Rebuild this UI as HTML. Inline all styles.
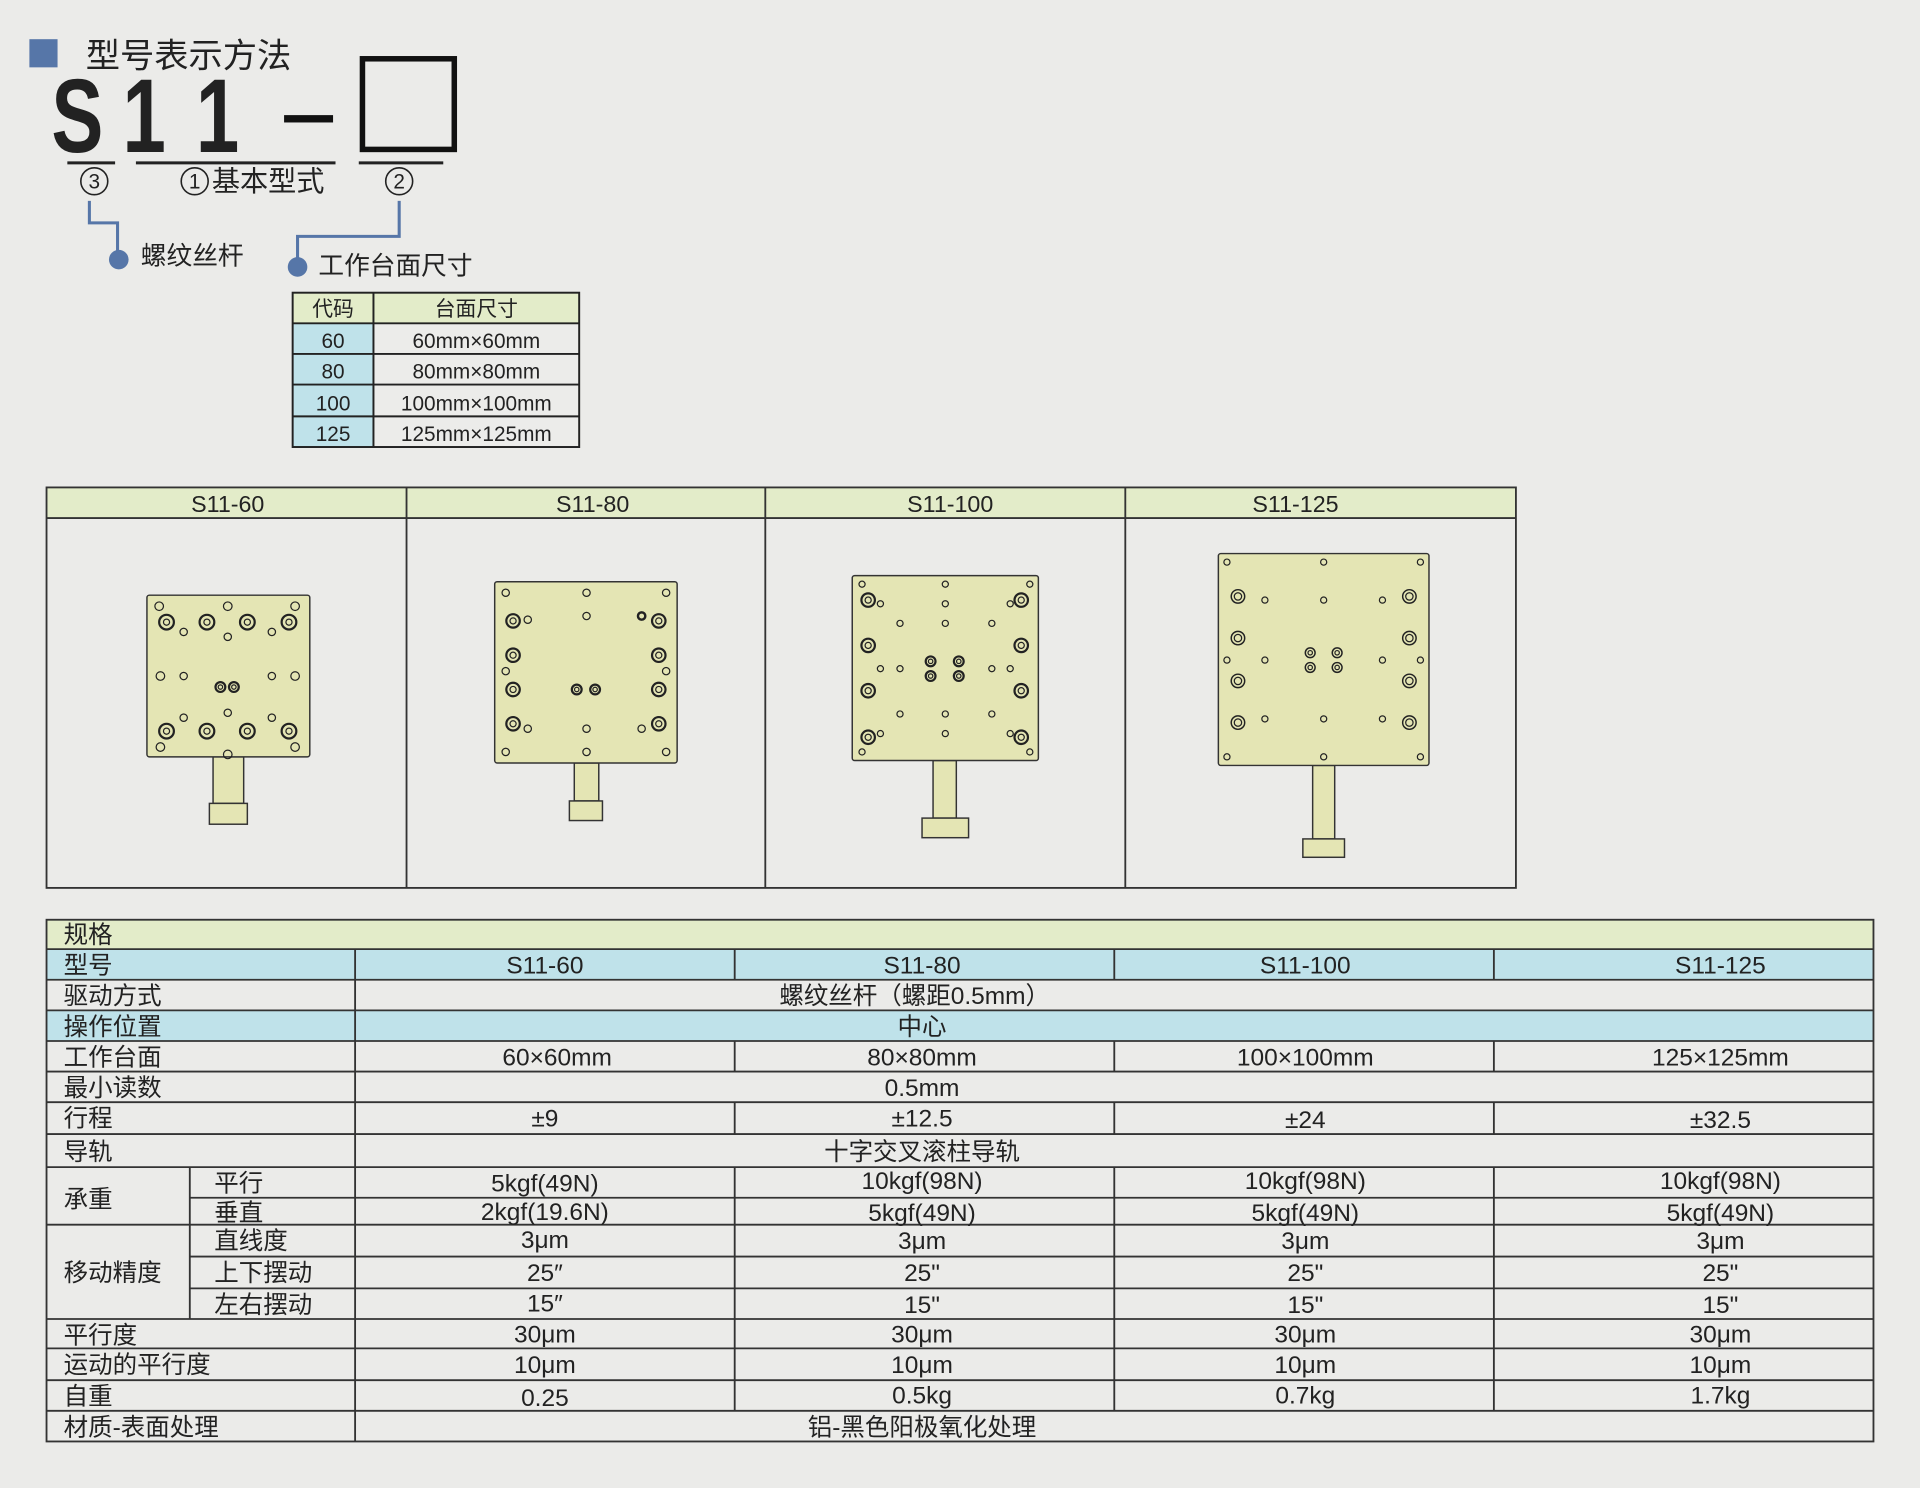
<!DOCTYPE html>
<html><head><meta charset="utf-8"><style>
html,body{margin:0;padding:0;background:#ebebe9;}
svg{display:block}
text{font-family:"Liberation Sans","Noto Sans CJK SC",sans-serif;fill:#222}
</style></head><body>
<svg width="1920" height="1488" viewBox="0 0 1568 1215" preserveAspectRatio="none" xmlns="http://www.w3.org/2000/svg">
<rect x="0" y="0" width="1568" height="1215" fill="#ebebe9"/>
<rect x="24" y="32" width="23" height="23" fill="#5676a8"/>
<text x="70" y="55" font-size="28">型号表示方法</text>
<g font-family="Liberation Sans" font-size="86" font-weight="bold" fill="#111">
<text x="42" y="124" transform="translate(42 0) scale(0.74 1) translate(-42 0)">S</text>
<text x="100" y="124" transform="translate(100 0) scale(0.74 1) translate(-100 0)">1</text>
<text x="160" y="124" transform="translate(160 0) scale(0.74 1) translate(-160 0)">1</text>
</g>
<rect x="232" y="94" width="40" height="6" fill="#111"/>
<rect x="296" y="48" width="75" height="74" fill="none" stroke="#111" stroke-width="4.5"/>
<g stroke="#222" stroke-width="2.5">
<line x1="55" y1="133" x2="94" y2="133"/><line x1="111" y1="133" x2="274" y2="133"/><line x1="293" y1="133" x2="362" y2="133"/>
</g>
<g fill="none" stroke="#222" stroke-width="1.3">
<circle cx="77" cy="148" r="11"/><circle cx="159" cy="148" r="11"/><circle cx="326" cy="148" r="11"/>
</g>
<g font-size="17" text-anchor="middle"><text x="77" y="154">3</text><text x="159" y="154">1</text><text x="326" y="154">2</text></g>
<text x="173" y="156" font-size="23">基本型式</text>
<g fill="none" stroke="#5676a8" stroke-width="2.5">
<polyline points="73,164 73,182 96,182 96,210"/>
<polyline points="326,164 326,193 243,193 243,216"/>
</g>
<circle cx="97" cy="212" r="8" fill="#5676a8"/><circle cx="243" cy="218" r="8" fill="#5676a8"/>
<text x="115" y="216" font-size="21">螺纹丝杆</text>
<text x="260" y="224" font-size="21">工作台面尺寸</text>
<rect x="239" y="239" width="234" height="25" fill="#e3ecc9"/>
<rect x="239" y="264" width="66" height="101" fill="#bfe2ea"/>
<rect x="305" y="264" width="168" height="101" fill="#ececea"/>
<g stroke="#222" stroke-width="1.6" fill="none">
<rect x="239" y="239" width="234" height="126"/>
<line x1="305" y1="239" x2="305" y2="365"/>
<line x1="239" y1="264" x2="473" y2="264"/><line x1="239" y1="289" x2="473" y2="289"/><line x1="239" y1="314" x2="473" y2="314"/><line x1="239" y1="340" x2="473" y2="340"/>
</g>
<g font-size="17" text-anchor="middle">
<text x="272" y="258">代码</text><text x="389" y="258">台面尺寸</text>
<text x="272" y="284">60</text><text x="389" y="284">60mm×60mm</text>
<text x="272" y="309">80</text><text x="389" y="309">80mm×80mm</text>
<text x="272" y="335">100</text><text x="389" y="335">100mm×100mm</text>
<text x="272" y="360">125</text><text x="389" y="360">125mm×125mm</text>
</g>
<rect x="38" y="398" width="1200" height="25" fill="#e3ecc9"/>
<g stroke="#333" stroke-width="1.5" fill="none">
<rect x="38" y="398" width="1200" height="327"/>
<line x1="38" y1="423" x2="1238" y2="423"/>
<line x1="332" y1="398" x2="332" y2="725"/><line x1="625" y1="398" x2="625" y2="725"/><line x1="919" y1="398" x2="919" y2="725"/>
</g>
<g font-size="19" text-anchor="middle">
<text x="186" y="418">S11-60</text><text x="484" y="418">S11-80</text><text x="776" y="418">S11-100</text><text x="1058" y="418">S11-125</text>
</g>
<g fill="#e4e5b4" stroke="#333" stroke-width="1.2">
<rect x="174" y="618" width="25" height="38"/><rect x="171" y="656" width="31" height="17"/>
<rect x="120" y="486" width="133" height="132" rx="2"/>
<rect x="469" y="623" width="20" height="31"/><rect x="465" y="654" width="27" height="16"/>
<rect x="404" y="475" width="149" height="148" rx="2"/>
<rect x="762" y="621" width="19" height="47"/><rect x="753" y="668" width="38" height="16"/>
<rect x="696" y="470" width="152" height="151" rx="2"/>
<rect x="1072" y="625" width="18" height="60"/><rect x="1064" y="685" width="34" height="15"/>
<rect x="995" y="452" width="172" height="173" rx="2"/>
</g>
<g fill="none" stroke="#222" stroke-width="1">
<circle cx="130" cy="495" r="3.5"/><circle cx="186" cy="495" r="3.5"/><circle cx="241" cy="495" r="3.5"/>
<circle cx="150" cy="516" r="3"/><circle cx="186" cy="520" r="3"/><circle cx="222" cy="516" r="3"/>
<circle cx="131" cy="552" r="3.5"/><circle cx="150" cy="552" r="3"/><circle cx="222" cy="552" r="3"/><circle cx="241" cy="552" r="3.5"/>
<circle cx="150" cy="586" r="3"/><circle cx="186" cy="582" r="3"/><circle cx="222" cy="586" r="3"/>
<circle cx="131" cy="610" r="3.5"/><circle cx="186" cy="616" r="3.5"/><circle cx="241" cy="610" r="3.5"/>
<circle cx="413" cy="484" r="3"/><circle cx="479" cy="484" r="3"/><circle cx="544" cy="484" r="3"/>
<circle cx="431" cy="506" r="3"/><circle cx="479" cy="503" r="3"/><circle cx="524" cy="503" r="3" stroke-width="2"/>
<circle cx="413" cy="548" r="3"/><circle cx="544" cy="548" r="3"/>
<circle cx="431" cy="595" r="3"/><circle cx="479" cy="595" r="3"/><circle cx="524" cy="595" r="3"/>
<circle cx="413" cy="614" r="3"/><circle cx="479" cy="614" r="3"/><circle cx="544" cy="614" r="3"/>
<circle cx="704" cy="477" r="2.5"/><circle cx="772" cy="477" r="2.5"/><circle cx="841" cy="477" r="2.5"/>
<circle cx="719" cy="493" r="2.5"/><circle cx="772" cy="493" r="2.5"/><circle cx="825" cy="493" r="2.5"/>
<circle cx="735" cy="509" r="2.5"/><circle cx="772" cy="509" r="2.5"/><circle cx="810" cy="509" r="2.5"/>
<circle cx="719" cy="546" r="2.5"/><circle cx="735" cy="546" r="2.5"/><circle cx="810" cy="546" r="2.5"/><circle cx="825" cy="546" r="2.5"/>
<circle cx="735" cy="583" r="2.5"/><circle cx="772" cy="583" r="2.5"/><circle cx="810" cy="583" r="2.5"/>
<circle cx="719" cy="599" r="2.5"/><circle cx="772" cy="599" r="2.5"/><circle cx="825" cy="599" r="2.5"/>
<circle cx="704" cy="614" r="2.5"/><circle cx="841" cy="614" r="2.5"/>
<circle cx="1002" cy="459" r="2.5"/><circle cx="1081" cy="459" r="2.5"/><circle cx="1160" cy="459" r="2.5"/>
<circle cx="1033" cy="490" r="2.5"/><circle cx="1081" cy="490" r="2.5"/><circle cx="1129" cy="490" r="2.5"/>
<circle cx="1002" cy="539" r="2.5"/><circle cx="1033" cy="539" r="2.5"/><circle cx="1129" cy="539" r="2.5"/><circle cx="1160" cy="539" r="2.5"/>
<circle cx="1033" cy="587" r="2.5"/><circle cx="1081" cy="587" r="2.5"/><circle cx="1129" cy="587" r="2.5"/>
<circle cx="1002" cy="618" r="2.5"/><circle cx="1081" cy="618" r="2.5"/><circle cx="1160" cy="618" r="2.5"/>
</g>
<g fill="none" stroke="#222" stroke-width="1.8">
<g>
<circle cx="136" cy="508" r="6"/><circle cx="169" cy="508" r="6"/><circle cx="202" cy="508" r="6"/><circle cx="236" cy="508" r="6"/>
<circle cx="136" cy="597" r="6"/><circle cx="169" cy="597" r="6"/><circle cx="202" cy="597" r="6"/><circle cx="236" cy="597" r="6"/>
<circle cx="180" cy="561" r="4"/><circle cx="191" cy="561" r="4"/>
<circle cx="419" cy="507" r="5.5"/><circle cx="538" cy="507" r="5.5"/><circle cx="419" cy="535" r="5.5"/><circle cx="538" cy="535" r="5.5"/>
<circle cx="419" cy="563" r="5.5"/><circle cx="538" cy="563" r="5.5"/><circle cx="419" cy="591" r="5.5"/><circle cx="538" cy="591" r="5.5"/>
<circle cx="471" cy="563" r="4"/><circle cx="486" cy="563" r="4"/>
<circle cx="709" cy="490" r="5.5"/><circle cx="834" cy="490" r="5.5"/><circle cx="709" cy="527" r="5.5"/><circle cx="834" cy="527" r="5.5"/>
<circle cx="709" cy="564" r="5.5"/><circle cx="834" cy="564" r="5.5"/><circle cx="709" cy="602" r="5.5"/><circle cx="834" cy="602" r="5.5"/>
<circle cx="760" cy="540" r="4"/><circle cx="783" cy="540" r="4"/><circle cx="760" cy="552" r="4"/><circle cx="783" cy="552" r="4"/>
</g>
<g stroke-width="1.2">
<circle cx="1011" cy="487" r="5.5"/><circle cx="1151" cy="487" r="5.5"/><circle cx="1011" cy="521" r="5.5"/><circle cx="1151" cy="521" r="5.5"/>
<circle cx="1011" cy="556" r="5.5"/><circle cx="1151" cy="556" r="5.5"/><circle cx="1011" cy="590" r="5.5"/><circle cx="1151" cy="590" r="5.5"/>
<circle cx="1070" cy="533" r="4"/><circle cx="1092" cy="533" r="4"/><circle cx="1070" cy="545" r="4"/><circle cx="1092" cy="545" r="4"/>
</g>
</g>
<g fill="none" stroke="#222" stroke-width="1">
<circle cx="136" cy="508" r="2.5"/><circle cx="169" cy="508" r="2.5"/><circle cx="202" cy="508" r="2.5"/><circle cx="236" cy="508" r="2.5"/>
<circle cx="136" cy="597" r="2.5"/><circle cx="169" cy="597" r="2.5"/><circle cx="202" cy="597" r="2.5"/><circle cx="236" cy="597" r="2.5"/>
<circle cx="180" cy="561" r="1.8"/><circle cx="191" cy="561" r="1.8"/>
<circle cx="471" cy="563" r="1.8"/><circle cx="486" cy="563" r="1.8"/>
<circle cx="760" cy="540" r="1.8"/><circle cx="783" cy="540" r="1.8"/><circle cx="760" cy="552" r="1.8"/><circle cx="783" cy="552" r="1.8"/>
<circle cx="1070" cy="533" r="1.8"/><circle cx="1092" cy="533" r="1.8"/><circle cx="1070" cy="545" r="1.8"/><circle cx="1092" cy="545" r="1.8"/>
<circle cx="419" cy="507" r="2.5"/><circle cx="538" cy="507" r="2.5"/><circle cx="419" cy="535" r="2.5"/><circle cx="538" cy="535" r="2.5"/>
<circle cx="419" cy="563" r="2.5"/><circle cx="538" cy="563" r="2.5"/><circle cx="419" cy="591" r="2.5"/><circle cx="538" cy="591" r="2.5"/>
<circle cx="709" cy="490" r="2.5"/><circle cx="834" cy="490" r="2.5"/><circle cx="709" cy="527" r="2.5"/><circle cx="834" cy="527" r="2.5"/>
<circle cx="709" cy="564" r="2.5"/><circle cx="834" cy="564" r="2.5"/><circle cx="709" cy="602" r="2.5"/><circle cx="834" cy="602" r="2.5"/>
<circle cx="1011" cy="487" r="3"/><circle cx="1151" cy="487" r="3"/><circle cx="1011" cy="521" r="3"/><circle cx="1151" cy="521" r="3"/>
<circle cx="1011" cy="556" r="3"/><circle cx="1151" cy="556" r="3"/><circle cx="1011" cy="590" r="3"/><circle cx="1151" cy="590" r="3"/>
</g>
<rect x="38" y="751" width="1492" height="24" fill="#e3ecc9"/>
<rect x="38" y="775" width="1492" height="25" fill="#bfe2ea"/>
<rect x="38" y="825" width="1492" height="25" fill="#bfe2ea"/>
<g stroke="#333" stroke-width="1.5" fill="none">
<rect x="38" y="751" width="1492" height="426"/>
<line x1="38" y1="775" x2="1530" y2="775"/><line x1="38" y1="800" x2="1530" y2="800"/><line x1="38" y1="825" x2="1530" y2="825"/>
<line x1="38" y1="850" x2="1530" y2="850"/><line x1="38" y1="875" x2="1530" y2="875"/><line x1="38" y1="900" x2="1530" y2="900"/>
<line x1="38" y1="926" x2="1530" y2="926"/><line x1="38" y1="953" x2="1530" y2="953"/><line x1="155" y1="978" x2="1530" y2="978"/>
<line x1="38" y1="1000" x2="1530" y2="1000"/><line x1="155" y1="1026" x2="1530" y2="1026"/><line x1="155" y1="1052" x2="1530" y2="1052"/>
<line x1="38" y1="1077" x2="1530" y2="1077"/><line x1="38" y1="1101" x2="1530" y2="1101"/><line x1="38" y1="1127" x2="1530" y2="1127"/>
<line x1="38" y1="1152" x2="1530" y2="1152"/>
<line x1="290" y1="775" x2="290" y2="1177"/>
<line x1="155" y1="953" x2="155" y2="1077"/>
<line x1="600" y1="775" x2="600" y2="800"/><line x1="910" y1="775" x2="910" y2="800"/><line x1="1220" y1="775" x2="1220" y2="800"/>
<line x1="600" y1="850" x2="600" y2="875"/><line x1="910" y1="850" x2="910" y2="875"/><line x1="1220" y1="850" x2="1220" y2="875"/>
<line x1="600" y1="900" x2="600" y2="926"/><line x1="910" y1="900" x2="910" y2="926"/><line x1="1220" y1="900" x2="1220" y2="926"/>
<line x1="600" y1="953" x2="600" y2="1152"/><line x1="910" y1="953" x2="910" y2="1152"/><line x1="1220" y1="953" x2="1220" y2="1152"/>
</g>
<g font-size="20">
<text x="52" y="770">规格</text><text x="52" y="795">型号</text><text x="52" y="820">驱动方式</text><text x="52" y="845">操作位置</text>
<text x="52" y="870">工作台面</text><text x="52" y="895">最小读数</text><text x="52" y="920">行程</text><text x="52" y="947">导轨</text>
<text x="52" y="986">承重</text><text x="175" y="973">平行</text><text x="175" y="997">垂直</text>
<text x="52" y="1046">移动精度</text><text x="175" y="1020">直线度</text><text x="175" y="1046">上下摆动</text><text x="175" y="1072">左右摆动</text>
<text x="52" y="1097">平行度</text><text x="52" y="1121">运动的平行度</text><text x="52" y="1147">自重</text><text x="52" y="1172">材质-表面处理</text>
</g>
<g font-size="20" text-anchor="middle">
<text x="445" y="795">S11-60</text><text x="753" y="795">S11-80</text><text x="1066" y="795">S11-100</text><text x="1405" y="795">S11-125</text>
<text x="747" y="820">螺纹丝杆（螺距0.5mm）</text>
<text x="753" y="845">中心</text>
<text x="455" y="870">60×60mm</text><text x="753" y="870">80×80mm</text><text x="1066" y="870">100×100mm</text><text x="1405" y="870">125×125mm</text>
<text x="753" y="895">0.5mm</text>
<text x="445" y="920">±9</text><text x="753" y="920">±12.5</text><text x="1066" y="921">±24</text><text x="1405" y="921">±32.5</text>
<text x="753" y="947">十字交叉滚柱导轨</text>
<text x="445" y="973">5kgf(49N)</text><text x="753" y="971">10kgf(98N)</text><text x="1066" y="971">10kgf(98N)</text><text x="1405" y="971">10kgf(98N)</text>
<text x="445" y="996">2kgf(19.6N)</text><text x="753" y="997">5kgf(49N)</text><text x="1066" y="997">5kgf(49N)</text><text x="1405" y="997">5kgf(49N)</text>
<text x="445" y="1019">3μm</text><text x="753" y="1020">3μm</text><text x="1066" y="1020">3μm</text><text x="1405" y="1020">3μm</text>
<text x="445" y="1046">25″</text><text x="753" y="1046">25"</text><text x="1066" y="1046">25"</text><text x="1405" y="1046">25"</text>
<text x="445" y="1071">15″</text><text x="753" y="1072">15"</text><text x="1066" y="1072">15"</text><text x="1405" y="1072">15"</text>
<text x="445" y="1096">30μm</text><text x="753" y="1096">30μm</text><text x="1066" y="1096">30μm</text><text x="1405" y="1096">30μm</text>
<text x="445" y="1121">10μm</text><text x="753" y="1121">10μm</text><text x="1066" y="1121">10μm</text><text x="1405" y="1121">10μm</text>
<text x="445" y="1148">0.25</text><text x="753" y="1146">0.5kg</text><text x="1066" y="1146">0.7kg</text><text x="1405" y="1146">1.7kg</text>
<text x="753" y="1172">铝-黑色阳极氧化处理</text>
</g>
</svg>
</body></html>
